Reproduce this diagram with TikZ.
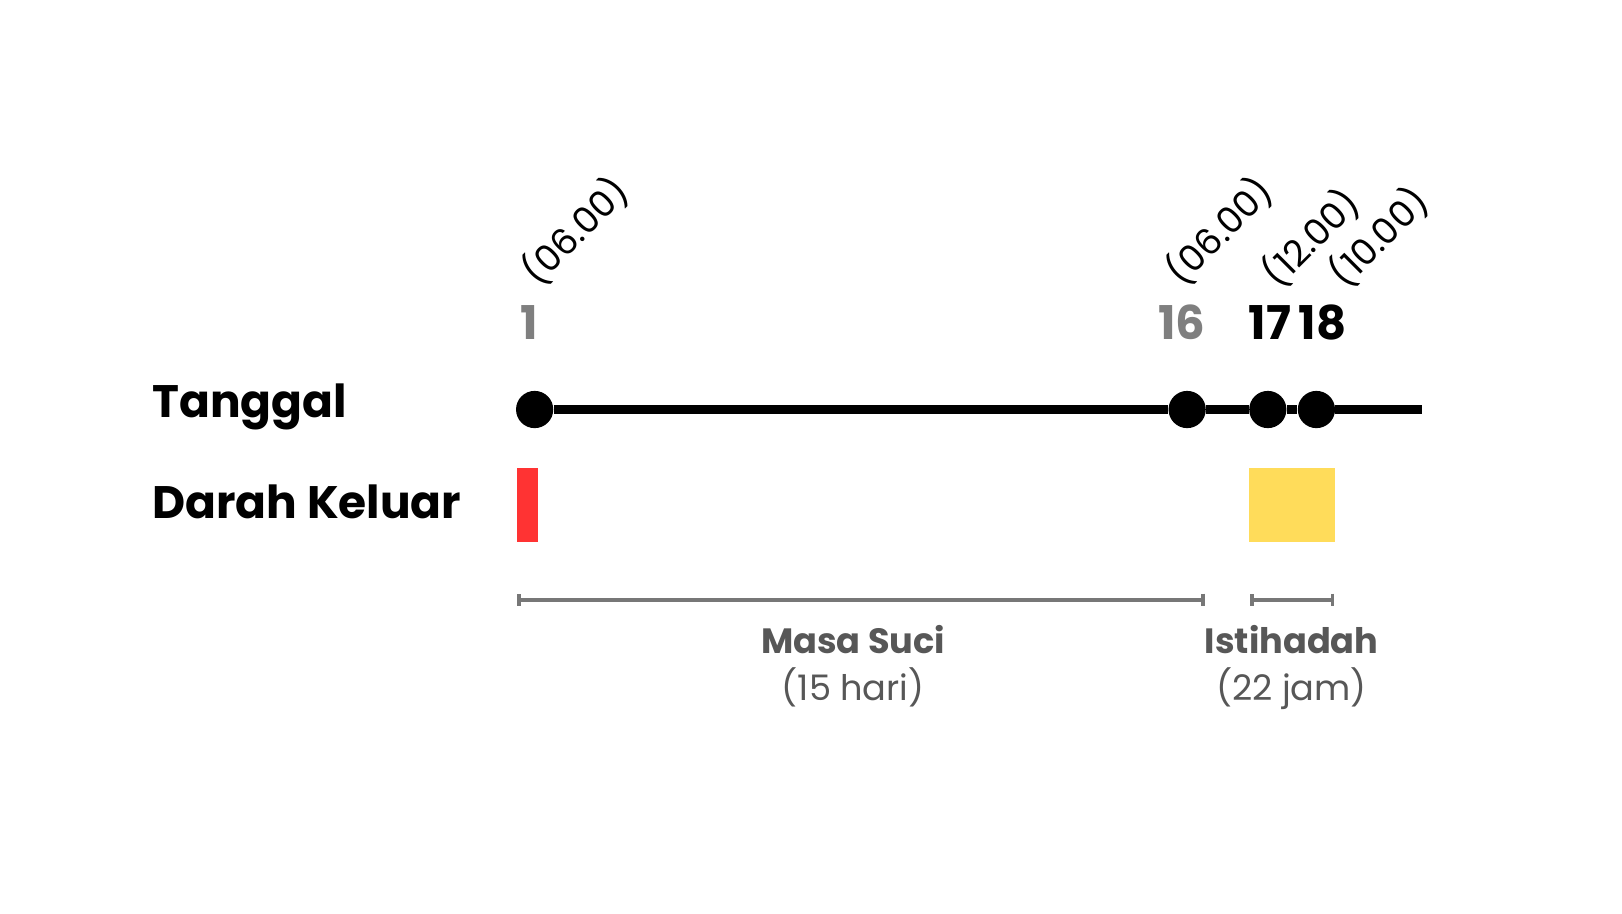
\documentclass[tikz,border=0pt]{standalone}
\usepackage{fontspec}
\setmainfont{Poppins}
\usetikzlibrary{arrows.meta}
\definecolor{darahred}{HTML}{FF3333}
\definecolor{istiyellow}{HTML}{FFDC5A}
\definecolor{numgray}{HTML}{7F7F7F}
\definecolor{bargray}{HTML}{777777}
\definecolor{spangray}{HTML}{575757}
\begin{document}
\begin{tikzpicture}[x=0.5pt,y=-0.5pt,
	rowlabel/.style={anchor=base west,inner sep=0pt,font=\bfseries\fontsize{22}{26}\selectfont},
	daynum/.style={anchor=base,inner sep=0pt,font=\bfseries\fontsize{22.5}{27}\selectfont},
	hourlbl/.style={anchor=base west,rotate=45,inner sep=0pt,font=\fontsize{17.5}{21}\selectfont},
	daydot/.style={circle,fill=black,inner sep=0pt,minimum size=18pt},
	spanbar/.style={draw=bargray,line width=1.7pt,{Bar[width=6pt]}-{Bar[width=6pt]}},
	spanname/.style={anchor=base,text=spangray,font=\bfseries\fontsize{17}{21}\selectfont},
	spanlen/.style={anchor=base,text=spangray,font=\fontsize{17}{21}\selectfont}]
			\useasboundingbox (0,0) rectangle (1568.5,883);
			\node[rowlabel] (tanggal)at(147,404) {Tanggal};
			\node[rowlabel] (darah)at(147,501) {Darah Keluar};
			\node[daydot] (d1)at(517,396) {};
			\node[daydot] (d16)at(1148,396) {};
			\node[daydot] (d17)at(1226,396) {};
			\node[daydot] (d18)at(1273,396) {};
			\coordinate (lineend)at(1375,396);
			\node[daynum,text=numgray] (n1)at(512,328) {1};
			\node[daynum,text=numgray] (n16)at(1143,328) {16};
			\node[daynum] (n17)at(1228,328) {17};
			\node[daynum] (n18)at(1279,328) {18};
			\node[hourlbl] (h1)at(520,278) {(06.00)};
			\node[hourlbl] (h16)at(1143,278) {(06.00)};
			\node[hourlbl] (h17)at(1236,280) {(12.00)};
			\node[hourlbl] (h18)at(1301,280) {(10.00)};
			\fill[darahred] (500,453) rectangle (520,524);
			\fill[istiyellow] (1208,453) rectangle (1291,524);
			\coordinate (suciA)at(500,580);
			\coordinate (suciB)at(1165,580);
			\coordinate (istiA)at(1209,580);
			\coordinate (istiB)at(1290,580);
			\node[spanname] (suci)at(825,632) {Masa Suci};
			\node[spanlen] (suciLen)at(825,677) {(15 hari)};
			\node[spanname] (isti)at(1249,632) {Istihadah};
			\node[spanlen] (istiLen)at(1249,677) {(22 jam)};
			\draw[line width=4pt] (d1) -- (d16) -- (d17) -- (d18) -- (lineend);
			\draw[spanbar] (suciA) -- (suciB);
			\draw[spanbar] (istiA) -- (istiB);
		\end{tikzpicture}
\end{document}
